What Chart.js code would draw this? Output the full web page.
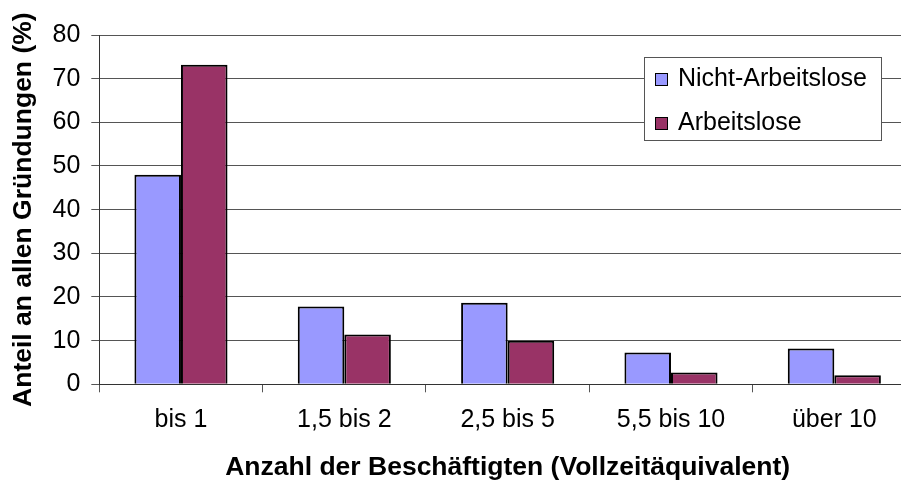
<!DOCTYPE html>
<html lang="de">
<head>
  <meta charset="UTF-8">
  <title>Anteil an allen Gründungen</title>
  <script src="https://cdn.jsdelivr.net/npm/chart.js"></script>
  <style>
    html, body {
      margin: 0;
      padding: 0;
      background: #ffffff;
      overflow: hidden;
    }
    .chart-container {
      position: relative;
      width: 920px;
      height: 481px;
    }
  </style>
</head>
<body>
  <div class="chart-container">
    <canvas id="grChart"></canvas>
  </div>

  <script>
    // Data
    const categories = ['bis 1', '1,5 bis 2', '2,5 bis 5', '5,5 bis 10', 'über 10'];
    const nichtArbeitslose = [48, 17.8, 18.7, 7.3, 8.2];
    const arbeitslose = [73.2, 11.4, 10, 2.7, 2.1];
    const seriesNames = ['Nicht-Arbeitslose', 'Arbeitslose'];
    const yMin = 0, yMax = 80, yStep = 10;

    const FONT = "'Liberation Sans', Arial, sans-serif";

    // legend box drawn inside the plot area, like the original
    const boxLegend = {
      id: 'boxLegend',
      afterDraw(chart) {
        const c = chart.ctx;
        const x = 644, y = 57, w = 237, h = 83;
        c.save();
        c.fillStyle = '#ffffff';
        c.fillRect(x, y, w, h);
        c.strokeStyle = '#555555';
        c.lineWidth = 1;
        c.strokeRect(x + 0.5, y + 0.5, w, h);
        c.font = '25px ' + FONT;
        c.textBaseline = 'alphabetic';
        chart.data.datasets.forEach((ds, i) => {
          const rowBase = 86 + i * 44;
          c.fillStyle = ds.backgroundColor;
          c.fillRect(655, rowBase - 13, 13, 13);
          c.strokeStyle = '#000000';
          c.strokeRect(655.5, rowBase - 12.5, 12, 12);
          c.fillStyle = '#000000';
          c.fillText(ds.label, 678, rowBase);
        });
        c.restore();
      }
    };

    const ctx = document.getElementById('grChart').getContext('2d');
    new Chart(ctx, {
      type: 'bar',
      data: {
        labels: categories,
        datasets: [
          {
            label: seriesNames[0],
            data: nichtArbeitslose,
            backgroundColor: '#9999ff',
            borderColor: '#000000',
            borderWidth: 2,
            categoryPercentage: 0.57,
            barPercentage: 1.0
          },
          {
            label: seriesNames[1],
            data: arbeitslose,
            backgroundColor: '#993366',
            borderColor: '#000000',
            borderWidth: 2,
            categoryPercentage: 0.57,
            barPercentage: 1.0
          }
        ]
      },
      options: {
        responsive: true,
        maintainAspectRatio: false,
        animation: false,
        layout: {
          padding: { top: 35, right: 4, bottom: 0, left: 0 }
        },
        scales: {
          x: {
            grid: {
              display: true,
              drawOnChartArea: false,
              drawTicks: true,
              tickLength: 8,
              color: '#555555',
              offset: true
            },
            border: { display: true, color: '#333333', width: 1 },
            ticks: {
              color: '#000000',
              padding: 13,
              maxRotation: 0,
              font: { family: FONT, size: 25 }
            },
            title: {
              display: true,
              text: 'Anzahl der Beschäftigten (Vollzeitäquivalent)',
              color: '#000000',
              padding: { top: 0, bottom: 0 },
              font: { family: FONT, size: 26.5, weight: 'bold', lineHeight: 1.0 }
            },
            afterFit(scale) { scale.height = 96.7; }
          },
          y: {
            min: yMin,
            max: yMax,
            grid: {
              color: '#555555',
              lineWidth: 1,
              tickLength: 8
            },
            border: { display: true, color: '#333333', width: 1 },
            ticks: {
              stepSize: yStep,
              color: '#000000',
              padding: 11,
              font: { family: FONT, size: 25 }
            },
            title: {
              display: true,
              text: 'Anteil an allen Gründungen (%)',
              color: '#000000',
              padding: { top: 10.75, bottom: 0 },
              font: { family: FONT, size: 26.5, weight: 'bold', lineHeight: 1.0 }
            },
            afterFit(scale) { scale.width = 99.3; }
          }
        },
        plugins: {
          legend: { display: false },
          tooltip: { enabled: false },
          title: { display: false }
        }
      },
      plugins: [boxLegend]
    });
  </script>
</body>
</html>
